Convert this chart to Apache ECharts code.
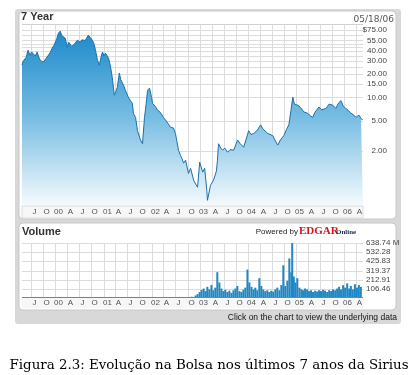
<!DOCTYPE html>
<html><head><meta charset="utf-8">
<script src="https://cdn.jsdelivr.net/npm/echarts@6/dist/echarts.min.js"></script>
<style>html,body{margin:0;padding:0;background:#fff;}#c{width:419px;height:375px;}</style>
</head><body><div id="c"></div>
<script>
const priceDates = ['1999-04-23','1999-05-01','1999-05-10','1999-05-24','1999-06-08','1999-06-23','1999-07-05','1999-07-16','1999-08-01','1999-08-08','1999-08-16','1999-08-28','1999-09-08','1999-09-20','1999-10-01','1999-10-12','1999-10-24','1999-11-08','1999-11-22','1999-12-08','1999-12-20',
'2000-01-01','2000-01-12','2000-01-24','2000-02-08','2000-02-18','2000-03-01','2000-03-16','2000-04-01','2000-04-12','2000-04-24','2000-05-05','2000-05-16','2000-06-01','2000-06-16','2000-07-08','2000-07-20','2000-08-01','2000-08-15','2000-09-08','2000-09-22','2000-10-08','2000-10-20','2000-11-01','2000-11-16','2000-12-01','2000-12-12','2000-12-24',
'2001-01-05','2001-01-16','2001-02-08','2001-02-24','2001-03-08','2001-03-24','2001-04-05','2001-04-16','2001-05-01','2001-05-12','2001-05-24','2001-06-05','2001-06-16','2001-07-08','2001-07-22','2001-08-08','2001-08-16','2001-09-01','2001-09-16','2001-10-08','2001-10-24','2001-11-08','2001-11-20','2001-12-01','2001-12-16',
'2002-01-01','2002-01-08','2002-02-01','2002-02-16','2002-03-08','2002-04-01','2002-04-16','2002-05-05','2002-05-24','2002-06-16','2002-07-01','2002-07-24','2002-08-08','2002-08-20','2002-09-01','2002-09-16','2002-10-08','2002-10-24','2002-11-16','2002-12-01','2002-12-16',
'2003-01-01','2003-01-24','2003-02-08','2003-02-24','2003-03-01','2003-03-24','2003-04-16','2003-05-08','2003-05-16','2003-05-24','2003-06-10','2003-06-24','2003-07-10','2003-08-01','2003-08-20','2003-09-16','2003-10-16','2003-11-05','2003-12-01','2003-12-18',
'2004-01-08','2004-01-25','2004-02-16','2004-03-05','2004-03-20','2004-04-08','2004-04-25','2004-05-10','2004-06-01','2004-07-08','2004-07-25','2004-08-16','2004-09-05','2004-10-01','2004-10-20','2004-11-08','2004-11-24','2004-12-08','2004-12-20',
'2005-01-16','2005-02-05','2005-03-01','2005-04-01','2005-04-20','2005-05-08','2005-05-25','2005-06-24','2005-07-15','2005-08-16','2005-09-10','2005-10-08','2005-11-01','2005-11-15','2005-12-08','2005-12-28',
'2006-01-15','2006-02-01','2006-02-20','2006-03-16','2006-04-01','2006-04-24','2006-05-10','2006-05-24'];
const priceValues = [26.3,29.5,28,33,41.1,35.4,39,37.6,34.5,33.4,38.8,33.5,30.5,31.5,28.7,30,32.4,33.4,38,43.7,47,
52.3,58,68.4,72.7,64,60.7,58.9,45.0,52,50.7,46,47.8,51,55.5,52.3,56,58.9,55,64.5,60,55.5,50,41.1,30.5,26.3,33,38.8,
35,37.6,32.4,24.7,18.3,10.7,12,13.6,20.7,17,16.8,14,12.4,10.1,9.2,8.4,6.2,5.5,3.7,2.8,2.5,5.5,8,12.4,13.2,
10,8.4,7.5,6.8,6.4,5.5,5.1,4.6,4.1,4.0,3.4,2.06,1.77,1.6,1.40,1.53,1.03,1.20,0.84,0.75,0.68,
1.44,1.07,1.20,0.62,0.46,0.72,0.84,1.1,1.53,2.5,2.2,2.06,2.2,1.94,2.1,2.06,2.8,2.5,2.25,2.8,
3.7,3.3,3.4,3.6,3.9,4.4,3.9,3.7,3.4,3.2,2.8,2.4,2.8,3.2,3.8,4.4,6.8,10.1,8.2,
7.9,7.4,6.5,6.2,5.8,5.5,6.4,7.5,6.9,7.2,8.2,7.9,7.2,8.2,9.1,7.6,
7.2,6.8,6.3,5.9,5.5,5.9,5.3,5.1];

const volumeDates = ['1999-05-01','1999-08-01','1999-11-01','2000-02-01','2000-05-01','2000-08-01','2000-11-01','2001-02-01','2001-05-01','2001-08-01','2001-11-01','2002-02-01','2002-05-01','2002-08-01','2002-10-01','2002-11-01','2002-12-01','2002-12-16',
'2003-01-01','2003-01-16','2003-02-01','2003-02-16','2003-03-01','2003-03-16','2003-04-01','2003-04-16','2003-05-01','2003-05-16','2003-06-01','2003-06-16','2003-07-01','2003-07-16','2003-08-01','2003-08-16','2003-09-01','2003-09-16','2003-10-01','2003-10-16','2003-11-01','2003-11-16','2003-12-01','2003-12-16',
'2004-01-01','2004-01-16','2004-02-01','2004-02-16','2004-03-01','2004-03-16','2004-04-01','2004-04-16','2004-05-01','2004-05-16','2004-06-01','2004-06-16','2004-07-01','2004-07-16','2004-08-01','2004-08-16','2004-09-01','2004-09-16','2004-10-01','2004-10-16','2004-11-01','2004-11-16','2004-12-01','2004-12-08','2004-12-20',
'2005-01-01','2005-01-16','2005-02-01','2005-02-16','2005-03-01','2005-03-16','2005-04-01','2005-04-16','2005-05-01','2005-05-16','2005-06-01','2005-06-16','2005-07-01','2005-07-16','2005-08-01','2005-08-16','2005-09-01','2005-09-16','2005-10-01','2005-10-16','2005-11-01','2005-11-16','2005-12-01','2005-12-16',
'2006-01-01','2006-01-16','2006-02-01','2006-02-16','2006-03-01','2006-03-16','2006-04-01','2006-04-16','2006-05-01','2006-05-16'];
const volumeValues = [1,1,1.5,2,1.5,1,1.5,2,2,2,4,3,4,6,10,15,30,45,
70,95,110,80,130,100,150,90,120,300,180,110,80,95,70,85,60,90,110,140,80,70,95,120,
330,180,130,100,120,90,230,140,100,80,90,70,85,75,100,120,90,150,380,140,200,460,300,638,250,
180,230,120,100,90,110,100,80,90,70,85,75,90,80,95,85,70,90,80,100,90,110,130,100,
150,120,170,110,140,100,160,120,150,130];

const xTickDates = ['1999-07-01','1999-10-01','2000-01-01','2000-04-01','2000-07-01','2000-10-01','2001-01-01','2001-04-01','2001-07-01','2001-10-01','2002-01-01','2002-04-01','2002-07-01','2002-10-01','2003-01-01','2003-04-01','2003-07-01','2003-10-01','2004-01-01','2004-04-01','2004-07-01','2004-10-01','2005-01-01','2005-04-01','2005-07-01','2005-10-01','2006-01-01','2006-04-01'];
const xTickLabels = ['J','O','00','A','J','O','01','A','J','O','02','A','J','O','03','A','J','O','04','A','J','O','05','A','J','O','06','A'];
const priceTicks = [75,55,40,30,20,15,10,5,2];
const priceTickLabels = ['$75.00','55.00','40.00','30.00','20.00','15.00','10.00','5.00','2.00'];
const priceGridValues = [75,65,55,50,45,40,35,30,25,20,15,10,5,2];
const volumeTicks = [106.46,212.91,319.37,425.83,532.28,638.74];
const volumeTickLabels = ['106.46','212.91','319.37','425.83','532.28','638.74 M'];

function t(s){const p=s.split('-');return new Date(+p[0],+p[1]-1,+p[2]).getTime();}
const xMin = t('1999-04-23'), xMax = t('2006-05-25');
const labelFont = '8px "Liberation Sans Narrow", "Liberation Sans", sans-serif';

const chart = echarts.init(document.getElementById('c'), null, {renderer:'canvas'});
const G0 = {left:22, top:24, width:341, height:181};
const G1 = {left:22, top:243, width:341, height:55};
const hiddenAxis = {axisLine:{show:false}, axisTick:{show:false}, axisLabel:{show:false}, splitLine:{show:false}};

chart.setOption({
  animation:false,
  grid:[Object.assign({},G0), Object.assign({},G1)],
  xAxis:[
    Object.assign({type:'time', gridIndex:0, min:xMin, max:xMax}, hiddenAxis),
    Object.assign({type:'time', gridIndex:1, min:xMin, max:xMax}, hiddenAxis)
  ],
  yAxis:[
    Object.assign({type:'log', logBase:10, gridIndex:0, min:0.4, max:90, position:'right'}, hiddenAxis),
    Object.assign({type:'value', gridIndex:1, min:0, max:638.74, position:'right'}, hiddenAxis)
  ],
  series:[
    {type:'line', xAxisIndex:0, yAxisIndex:0, showSymbol:false, symbol:'none',
     data: priceDates.map((d,i)=>[t(d), priceValues[i]]),
     lineStyle:{color:'#1a72a8', width:1},
     areaStyle:{origin:'start', opacity:1, color:new echarts.graphic.LinearGradient(0,0,0,1,[{offset:0,color:'#1c8acb'},{offset:0.5,color:'#78bde3'},{offset:1,color:'#f4fafd'}])},
     z:5},
    {type:'bar', xAxisIndex:1, yAxisIndex:1, barWidth:2, barGap:'-100%',
     data: volumeDates.map((d,i)=>[t(d), volumeValues[i]]),
     itemStyle:{color:'#1f87c4'}, z:5}
  ]
});

const g = [];
g.push({type:'rect', shape:{x:15,y:9,width:386,height:315,r:3}, style:{fill:'#d8d8d8'}, z:-20});
g.push({type:'rect', shape:{x:19,y:11,width:377,height:208,r:4}, style:{fill:'#ffffff', stroke:'#c8c8c8', lineWidth:1}, z:-19});
g.push({type:'rect', shape:{x:19,y:223,width:377,height:87,r:4}, style:{fill:'#ffffff', stroke:'#c8c8c8', lineWidth:1}, z:-19});
g.push({type:'rect', shape:{x:22,y:206,width:341,height:12}, style:{fill:'#f7f7f7', stroke:'#dcdcdc', lineWidth:1}, z:-18});
g.push({type:'rect', shape:{x:22,y:298,width:341,height:10}, style:{fill:'#f7f7f7'}, z:-18});

const x0 = chart.convertToPixel({xAxisIndex:0}, xMin), x1 = chart.convertToPixel({xAxisIndex:0}, xMax);
xTickDates.forEach((d,i)=>{
  const x = Math.round(chart.convertToPixel({xAxisIndex:0}, t(d)))+0.5;
  g.push({type:'line', shape:{x1:x,y1:G0.top,x2:x,y2:G0.top+G0.height}, style:{stroke:'#dcdcdc', lineWidth:1}, z:1});
  g.push({type:'line', shape:{x1:x,y1:G1.top,x2:x,y2:G1.top+G1.height}, style:{stroke:'#dcdcdc', lineWidth:1}, z:1});
  g.push({type:'text', x:x+3, y:212, style:{text:xTickLabels[i], font:labelFont, fill:'#555', align:'center', verticalAlign:'middle'}, z:6});
  g.push({type:'text', x:x+3, y:303, style:{text:xTickLabels[i], font:labelFont, fill:'#555', align:'center', verticalAlign:'middle'}, z:6});
});
priceGridValues.forEach(v=>{
  const y = Math.round(chart.convertToPixel({yAxisIndex:0}, v))+0.5;
  g.push({type:'line', shape:{x1:x0,y1:y,x2:x1,y2:y}, style:{stroke:'#dcdcdc', lineWidth:1}, z:1});
});
g.push({type:'line', shape:{x1:x0,y1:G0.top+0.5,x2:x1,y2:G0.top+0.5}, style:{stroke:'#d0d0d0', lineWidth:1}, z:1});
priceTicks.forEach((v,i)=>{
  const y = chart.convertToPixel({yAxisIndex:0}, v);
  g.push({type:'text', x:x1+24, y:y, style:{text:priceTickLabels[i], font:labelFont, fill:'#444', align:'right', verticalAlign:'middle'}, z:6});
});
volumeTicks.forEach((v,i)=>{
  const y = Math.round(chart.convertToPixel({yAxisIndex:1}, v))+0.5;
  g.push({type:'line', shape:{x1:x0,y1:y,x2:x1,y2:y}, style:{stroke:'#dcdcdc', lineWidth:1}, z:1});
  g.push({type:'text', x:x1+3, y:y-1, style:{text:volumeTickLabels[i], font:labelFont, fill:'#444', align:'left', verticalAlign:'middle'}, z:6});
});
const yb = Math.round(chart.convertToPixel({yAxisIndex:1}, 0))-0.5;
g.push({type:'line', shape:{x1:x0,y1:yb,x2:x1,y2:yb}, style:{stroke:'#3a9e9a', lineWidth:1}, z:6});

g.push({type:'text', x:21, y:17, style:{text:'7 Year', font:'bold 11px "Liberation Sans", sans-serif', fill:'#333', align:'left', verticalAlign:'middle'}, z:6});
g.push({type:'text', x:394, y:20, style:{text:'05/18/06', font:'9px "DejaVu Sans", sans-serif', fill:'#555', align:'right', verticalAlign:'middle'}, z:6});
g.push({type:'text', x:22, y:232, style:{text:'Volume', font:'bold 11px "Liberation Sans", sans-serif', fill:'#333', align:'left', verticalAlign:'middle'}, z:6});
g.push({type:'text', x:298, y:232, style:{text:'Powered by', font:'8px "Liberation Sans Narrow", "Liberation Sans", sans-serif', fill:'#222', align:'right', verticalAlign:'middle'}, z:6});
g.push({type:'text', x:299, y:231, style:{text:'EDGAR', font:'bold 11px "Liberation Serif", serif', fill:'#d4141c', align:'left', verticalAlign:'middle'}, z:6});
g.push({type:'text', x:336, y:232, style:{text:'Online', font:'bold 7px "Liberation Serif", serif', fill:'#1c2a5a', align:'left', verticalAlign:'middle'}, z:6});
g.push({type:'text', x:397, y:318, style:{text:'Click on the chart to view the underlying data', font:'8.5px "Liberation Sans", sans-serif', fill:'#111', align:'right', verticalAlign:'middle'}, z:6});
g.push({type:'text', x:209, y:366, style:{text:'Figura 2.3: Evolução na Bolsa nos últimos 7 anos da Sirius', font:'13.4px "DejaVu Serif", serif', fill:'#000', align:'center', verticalAlign:'middle'}, z:6});

chart.setOption({graphic:{elements:g}});
</script></body></html>
